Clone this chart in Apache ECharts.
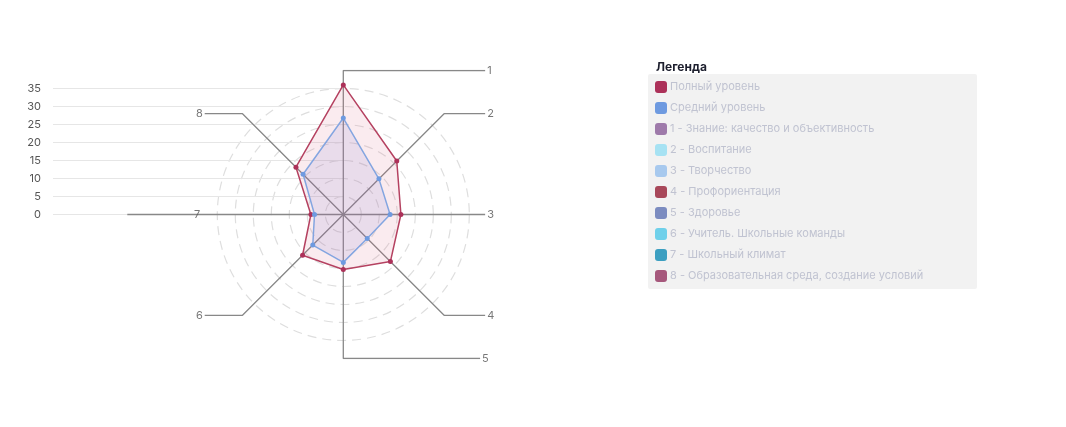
<!DOCTYPE html>
<html><head><meta charset="utf-8">
<script src="https://cdn.jsdelivr.net/npm/echarts@6/dist/echarts.min.js"></script>
<style>html,body{margin:0;padding:0;background:#fff}#c{width:1066px;height:427px}</style>
</head><body><div id="c"></div>
<script>
// ---- data ----
const axisNames = ['1', '2', '3', '4', '5', '6', '7', '8'];
const fullLevel = [36, 21, 16, 18.5, 15.3, 16, 9, 18.6];
const avgLevel = [26.8, 14, 13, 9.4, 13.3, 12, 8, 15.8];
const seriesNames = ['Полный уровень', 'Средний уровень'];
const categoryLegend = [
  '1 - Знание: качество и объективность',
  '2 - Воспитание',
  '3 - Творчество',
  '4 - Профориентация',
  '5 - Здоровье',
  '6 - Учитель. Школьные команды',
  '7 - Школьный климат',
  '8 - Образовательная среда, создание условий'
];
const yTicks = [0, 5, 10, 15, 20, 25, 30, 35];
const radarMax = 35;

// ---- layout / style ----
const FONT = 'Inter, "Noto Sans", sans-serif';
const seriesColors = ['#ac3159', '#6e9ae0'];
const categoryColors = ['#9e7aaa', '#a6e2f3', '#a7c9ee', '#a8485a', '#7c8cc0', '#6fd0ea', '#3c9fc1', '#a6587c'];
const cx = 343.3, cy = 214.5, pxPerUnit = 3.6;
// leader geometry in value units: vertical rise before turning horizontal, and horizontal reach
const leaderRise = [40, 28, 0, 28, 40, 28, 0, 28];
const leaderReach = [39.4, 39.4, 39.4, 39.4, 38, -38.5, -60, -38.5];
const labelAt = [null, null, null, null, null, null, -40.6, null];

// radar indicators go counter-clockwise in ECharts; reorder to get clockwise 1..8
const ccwOrder = [0, 7, 6, 5, 4, 3, 2, 1];
const indicators = ccwOrder.map(i => ({ name: axisNames[i], max: radarMax }));
const reorder = arr => ccwOrder.map(i => arr[i]);

// leader lines
const leaderSeries = axisNames.map((n, k) => {
  const ang = (90 - 45 * k) * Math.PI / 180;
  const dx = Math.cos(ang), dy = Math.sin(ang);
  const pts = [[0, 0]];
  const rise = leaderRise[k];
  if (rise > 0) {
    const t = rise / Math.abs(dy);
    pts.push([+(dx * t).toFixed(3), +(dy * t).toFixed(3)]);
    pts.push([leaderReach[k], +(dy * t).toFixed(3)]);
  } else {
    pts.push([leaderReach[k], 0]);
  }
  return {
    type: 'line', xAxisIndex: 1, yAxisIndex: 1, data: pts, symbol: 'none', silent: true,
    lineStyle: { color: '#888', width: 1.3 }, z: 1, animation: false
  };
});
const labelData = axisNames.map((n, k) => {
  const s = leaderSeries[k].data;
  const last = s[s.length - 1];
  const right = leaderReach[k] > 0;
  if (labelAt[k] !== null) return { value: [labelAt[k], last[1]], name: n, label: { position: 'inside' } };
  return { value: last, name: n, label: { position: right ? 'right' : 'left', distance: 2 } };
});

const dummySeries = categoryLegend.map((name, i) => ({
  type: 'line', name, data: [], xAxisIndex: 0, yAxisIndex: 0,
  itemStyle: { color: categoryColors[i] }, lineStyle: { color: categoryColors[i] }
}));

const chart = echarts.init(document.getElementById('c'), null, { renderer: 'canvas' });
chart.setOption({
  animation: false,
  textStyle: { fontFamily: FONT },
  title: {
    text: 'Легенда', left: 651, top: 56,
    textStyle: { fontFamily: FONT, fontSize: 12, fontWeight: 'bold', color: '#1d1f2e' }
  },
  graphic: [{
    type: 'rect', shape: { x: 648, y: 74, width: 329, height: 215, r: 2 },
    style: { fill: '#f2f2f2' }, z: 0, silent: true
  }],
  legend: {
    orient: 'vertical', left: 655, top: 81, padding: 0,
    itemWidth: 12, itemHeight: 12, itemGap: 9, icon: 'roundRect',
    selectedMode: false,
    textStyle: { color: '#c0c3d1', fontSize: 11, fontFamily: FONT, padding: [0, 0, 0, -2] },
    data: seriesNames.concat(categoryLegend),
    z: 5
  },
  grid: [
    { left: 53, top: cy - radarMax * pxPerUnit, width: cx - 53, height: radarMax * pxPerUnit },
    { left: cx - 60 * pxPerUnit, top: cy - 40 * pxPerUnit, width: 100 * pxPerUnit, height: 80 * pxPerUnit }
  ],
  xAxis: [
    { type: 'value', gridIndex: 0, show: false, min: 0, max: 1 },
    { type: 'value', gridIndex: 1, show: false, min: -60, max: 40 }
  ],
  yAxis: [
    {
      type: 'value', gridIndex: 0, min: yTicks[0], max: yTicks[yTicks.length - 1], interval: 5,
      axisLine: { show: false }, axisTick: { show: false },
      axisLabel: { color: '#555', fontSize: 11, margin: 12, fontFamily: FONT },
      splitLine: { lineStyle: { color: '#e6e6e6', width: 1 } }
    },
    { type: 'value', gridIndex: 1, show: false, min: -40, max: 40 }
  ],
  radar: {
    center: [cx, cy], radius: radarMax * pxPerUnit, shape: 'circle', splitNumber: 7,
    indicator: indicators,
    axisName: { show: false },
    axisLine: { show: false },
    axisTick: { show: false },
    axisLabel: { show: false },
    splitArea: { show: false },
    splitLine: { lineStyle: { color: '#dedede', type: [9, 6], width: 1.2 } }
  },
  series: [
    ...leaderSeries,
    {
      type: 'scatter', xAxisIndex: 1, yAxisIndex: 1, symbolSize: 0, silent: true,
      data: labelData,
      label: { show: true, formatter: p => p.name, color: '#555', fontSize: 11, fontFamily: FONT },
      z: 3
    },
    {
      type: 'radar', z: 2, symbol: 'circle', symbolSize: 5,
      data: [
        {
          name: seriesNames[0], value: reorder(fullLevel),
          itemStyle: { color: seriesColors[0] },
          lineStyle: { color: '#b3405f', width: 1.5 },
          areaStyle: { color: 'rgba(214, 96, 126, 0.18)' }
        },
        {
          name: seriesNames[1], value: reorder(avgLevel),
          itemStyle: { color: seriesColors[1] },
          lineStyle: { color: '#85a9e2', width: 1.5 },
          areaStyle: { color: 'rgba(110, 110, 200, 0.17)' }
        }
      ]
    },
    ...dummySeries
  ]
});
</script></body></html>
